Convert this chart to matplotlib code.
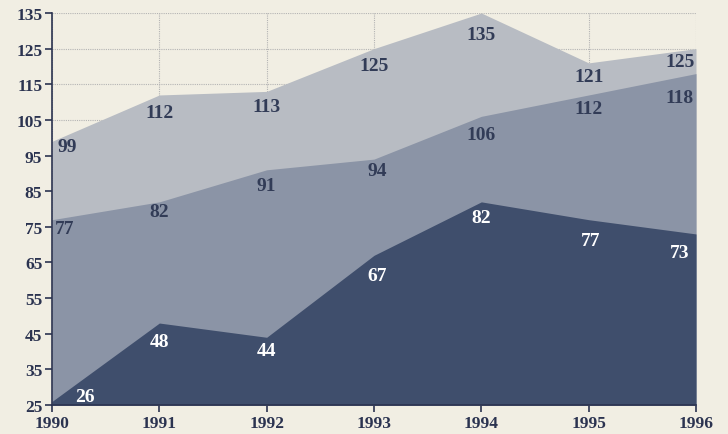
import numpy as np
import matplotlib
matplotlib.use("Agg")
import matplotlib.pyplot as plt

years = [1990, 1991, 1992, 1993, 1994, 1995, 1996]
top = [99, 112, 113, 125, 135, 121, 125]
mid = [77, 82, 91, 94, 106, 112, 118]
low = [26, 48, 44, 67, 82, 77, 73]
yticks = list(range(25, 136, 10))

# label nudges (data units) so numbers sit inside the areas
top_dy = [-1.6, -4.8, -4.1, -4.6, -5.9, -3.7, -3.5]
mid_dy = [-2.6, -2.8, -4.5, -3.3, -5.2, -3.9, -6.6]
low_dy = [1.5, -5.3, -3.8, -5.8, -4.5, -5.7, -5.1]
top_dx = [0.14, 0, 0, 0, 0, 0, -0.15]
mid_dx = [0.12, 0, 0, 0.03, 0, 0, -0.15]
low_dx = [0.31, 0, 0, 0.03, 0, 0.02, -0.15]

bg = "#f1eee3"
c_top = "#b8bcc3"
c_mid = "#8b94a6"
c_low = "#3f4e6c"
txt = "#323c57"

plt.rcParams['font.family'] = ['Liberation Serif', 'DejaVu Serif']

fig = plt.figure(figsize=(7.28, 4.35), dpi=100)
fig.patch.set_facecolor(bg)
ax = fig.add_axes([52/728, 29/435, 644/728, 392/435])
ax.set_facecolor(bg)

ax.set_xlim(1990, 1996)
ax.set_ylim(25, 135)

ax.grid(True, color="#b4b4b4", linestyle=(0, (1, 1)), linewidth=0.8, zorder=0)
ax.set_axisbelow(True)

ax.fill_between(years, 25, top, color=c_top, linewidth=0, zorder=1)
ax.fill_between(years, 25, mid, color=c_mid, linewidth=0, zorder=2)
ax.fill_between(years, 25, low, color=c_low, linewidth=0, zorder=3)

def put(vals, dxs, dys, color):
    for x, v, dx, dy in zip(years, vals, dxs, dys):
        ax.text(x + dx, v + dy, str(v), ha="center", va="center",
                fontsize=14, fontweight="bold", color=color, zorder=5)

put(top, top_dx, top_dy, txt)
put(mid, mid_dx, mid_dy, txt)
put(low, low_dx, low_dy, "white")

ax.set_xticks(years)
ax.set_yticks(yticks)
ax.tick_params(axis="both", colors="#2b3350", labelsize=12.5, width=1.2, length=5)
for lab in ax.get_xticklabels() + ax.get_yticklabels():
    lab.set_fontweight("bold")
ax.tick_params(axis="x", pad=2)
ax.tick_params(axis="y", pad=2)

for s in ["top", "right"]:
    ax.spines[s].set_visible(False)
for s in ["left", "bottom"]:
    ax.spines[s].set_color("#2b3350")
    ax.spines[s].set_linewidth(1.2)
    ax.spines[s].set_zorder(6)

fig.savefig("out.png", dpi=100, facecolor=bg)
